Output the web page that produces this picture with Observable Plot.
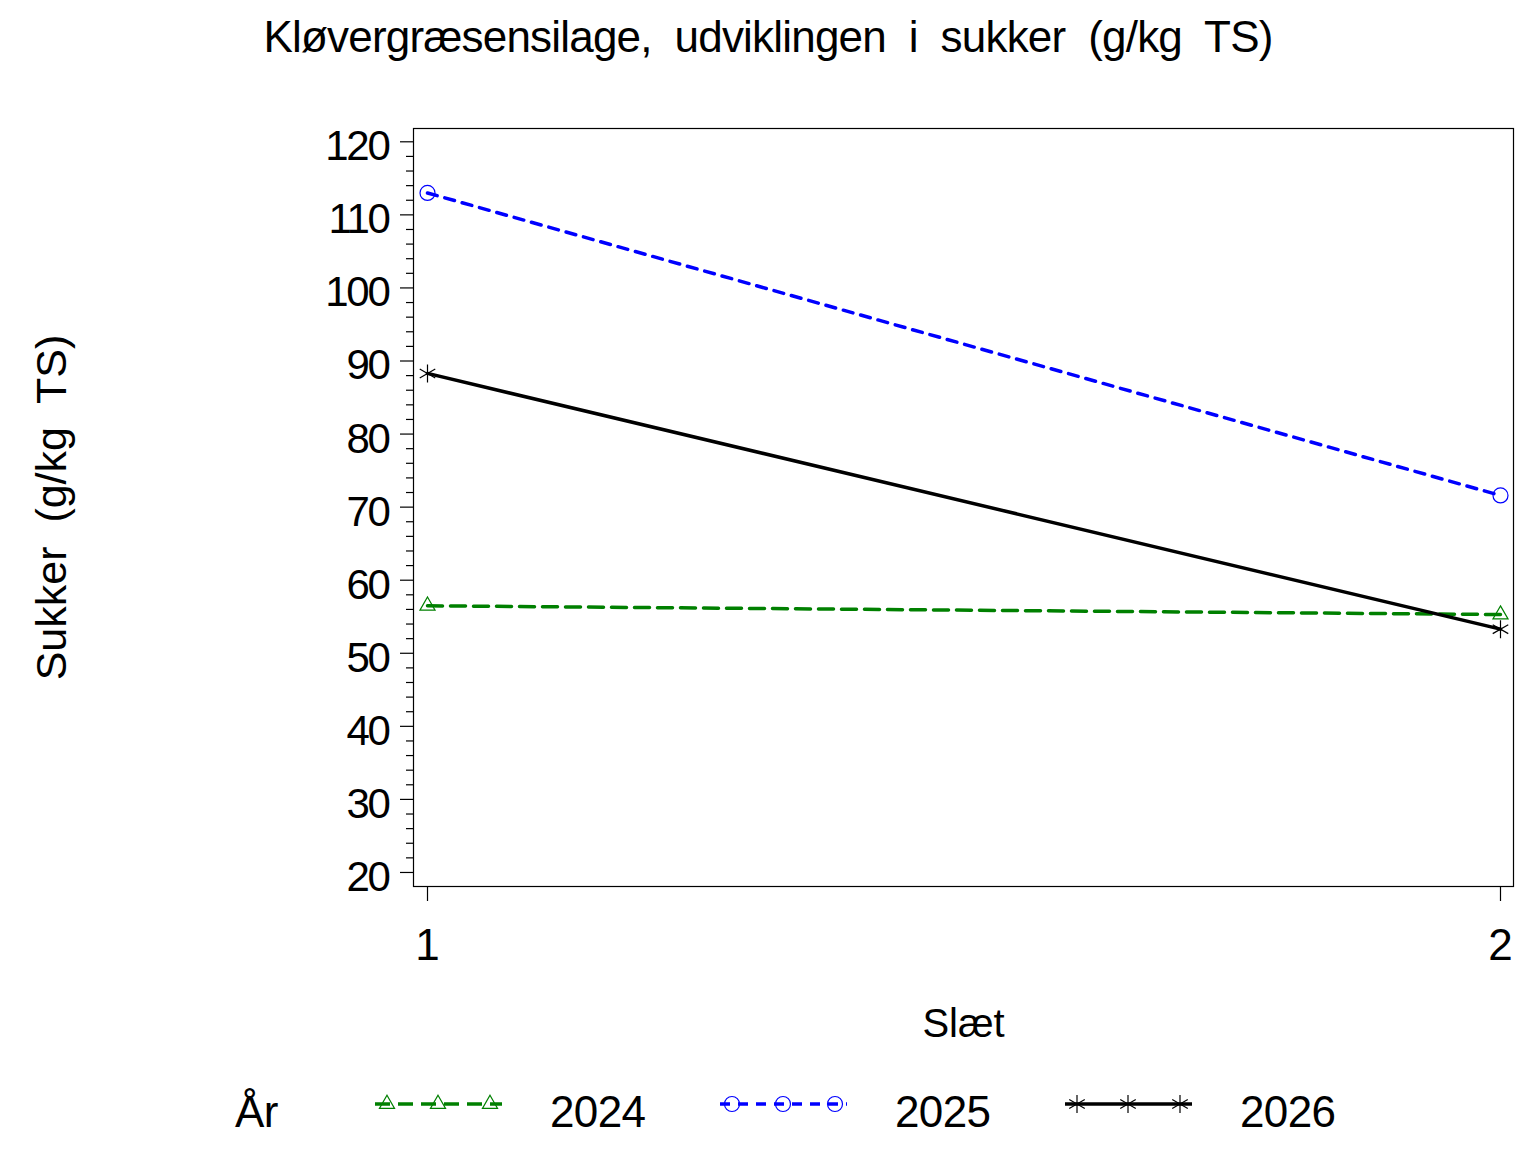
<!DOCTYPE html>
<html><head><meta charset="utf-8">
<script src="https://cdn.jsdelivr.net/npm/d3@7"></script>
<script src="https://cdn.jsdelivr.net/npm/@observablehq/plot@0.6"></script>
<style>
html,body{margin:0;padding:0;background:#fff;}
body{width:1536px;font-family:"Liberation Sans",Arial,sans-serif;color:#000;}
#title{height:80px;box-sizing:border-box;padding-top:15px;text-align:center;font-size:44px;line-height:1;white-space:pre;letter-spacing:-0.8px;}
#chart svg{display:block;}
#chart svg g[aria-label="y-axis tick label"] text{letter-spacing:-2.3px;}
#legend{position:relative;height:92px;}
#legend span{position:absolute;font-size:44px;line-height:1;white-space:pre;letter-spacing:-0.6px;}
#legend svg{position:absolute;overflow:visible;}
</style></head><body>
<div id="title"></div>
<div id="chart"></div>
<div id="legend"></div>
<script>
// ---- data ----
const titleText = "Kløvergræsensilage,  udviklingen  i  sukker  (g/kg  TS)";
const xLabel = "Slæt";
const yLabel = "Sukker  (g/kg  TS)";
const legendTitle = "År";
const slaet = [1, 2];
const years = ["2024", "2025", "2026"];
const sukker2024 = [56.5, 55.3];
const sukker2025 = [113.0, 71.6];
const sukker2026 = [88.3, 53.3];
const yMajorTicks = [20, 30, 40, 50, 60, 70, 80, 90, 100, 110, 120];
const xTicks = [1, 2];

// ---- styles ----
const seriesValues = [sukker2024, sukker2025, sukker2026];
const colors = ["#008000", "#0000ff", "#000000"];
const dashes = ["15,8", "10,8", null];
const symbols = ["triangle2", "circle", "asterisk"];
const symbolR = [7.2, 7.5, 8.5];
const d3Symbols = [d3.symbolTriangle2, d3.symbolCircle, d3.symbolAsterisk];

const yMinorTicks = d3.range(20, 121, 2).filter(v => v % 10 !== 0);

const rows = years.flatMap((yr, i) => slaet.map((s, j) => ({slaet: s, year: yr, sukker: seriesValues[i][j]})));

document.getElementById("title").textContent = titleText;

const marks = [
  Plot.frame({stroke: "black", strokeWidth: 1.2}),
  Plot.axisY(yMinorTicks, {tickSize: 7, text: null, label: null, strokeWidth: 1.2}),
  Plot.axisY(yMajorTicks, {tickSize: 13, text: null, label: null, strokeWidth: 1.2}),
  Plot.axisY(yMajorTicks, {tickSize: 0, tickPadding: 25, dy: 5, fontSize: 42, label: null, tickFormat: d3.format("d")}),
  Plot.axisX(xTicks, {tickSize: 15, text: null, label: null, strokeWidth: 1.2}),
  Plot.axisX(xTicks, {tickSize: 0, tickPadding: 42, fontSize: 44, label: null, tickFormat: d3.format("d")}),
];
years.forEach((yr, i) => {
  const d = rows.filter(r => r.year === yr);
  marks.push(Plot.line(d, {x: "slaet", y: "sukker", stroke: colors[i], strokeWidth: 3.5, strokeDasharray: dashes[i]}));
});
years.forEach((yr, i) => {
  const d = rows.filter(r => r.year === yr);
  marks.push(Plot.dot(d, {x: "slaet", y: "sukker", symbol: symbols[i], r: symbolR[i], stroke: colors[i], fill: "none", strokeWidth: 1.2}));
});
marks.push(Plot.text([yLabel], {text: d => d, frameAnchor: "left", textAnchor: "middle", lineAnchor: "middle", dx: -361, rotate: -90, fontSize: 43}));
marks.push(Plot.text([xLabel], {text: d => d, frameAnchor: "bottom", textAnchor: "middle", lineAnchor: "middle", dy: 138, fontSize: 40}));

const chart = Plot.plot({
  width: 1536,
  height: 980,
  marginTop: 48,
  marginBottom: 174,
  marginLeft: 413,
  marginRight: 23,
  style: {fontFamily: "Liberation Sans, Arial, sans-serif", fontSize: "42px", background: "white", color: "black", overflow: "visible"},
  x: {domain: [0.98695, 2.01212], label: null},
  y: {domain: [18.08, 121.82], label: null},
  marks
});
document.getElementById("chart").appendChild(chart);

// ---- legend ----
const legend = document.getElementById("legend");
const baseTop = 67 - 0.8465 * 44;
function addText(txt, left) {
  const s = document.createElement("span");
  s.textContent = txt;
  s.style.left = left + "px";
  s.style.top = baseTop + "px";
  legend.appendChild(s);
}
addText(legendTitle, 235);
years.forEach((yr, i) => {
  const L = 375 + 345 * i;
  const svg = d3.create("svg").attr("width", 147).attr("height", 24)
    .style("left", (L - 10) + "px").style("top", (44 - 12) + "px");
  svg.append("line").attr("x1", 10).attr("x2", 137).attr("y1", 12).attr("y2", 12)
    .attr("stroke", colors[i]).attr("stroke-width", 3.5)
    .attr("stroke-dasharray", dashes[i]);
  const size = Math.PI * symbolR[i] * symbolR[i];
  [22, 73, 125].forEach(mx => {
    svg.append("path").attr("d", d3.symbol(d3Symbols[i], size)())
      .attr("transform", `translate(${mx},12)`)
      .attr("fill", "none").attr("stroke", colors[i]).attr("stroke-width", 1.2);
  });
  legend.appendChild(svg.node());
  addText(yr, L + 175);
});
</script>
</body></html>
